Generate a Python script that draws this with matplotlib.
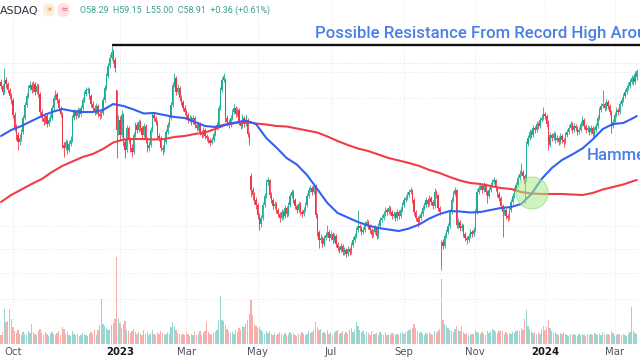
import numpy as np
import pandas as pd
import matplotlib
matplotlib.use("Agg")
import matplotlib.pyplot as plt
from matplotlib.patches import Ellipse
from matplotlib.transforms import blended_transform_factory

# ---------------- data (daily candles, 2022-09-22 .. 2024-03-21) ----------------
open_ = [
57.8, 57.4, 56.8, 58.0, 57.6, 57.0, 56.4, 56.0, 54.5, 53.2,
52.5, 51.8, 52.2, 52.8, 54.2, 55.5, 56.4, 57.2, 57.5, 57.0,
57.6, 56.8, 57.4, 56.6, 54.8, 54.2, 53.8, 54.4, 53.6, 54.0,
54.2, 55.2, 56.2, 56.6, 56.0, 55.2, 54.6, 51.5, 51.2, 51.8,
51.0, 51.6, 52.0, 54.2, 54.8, 54.4, 55.0, 54.6, 55.2, 56.0,
56.6, 57.0, 57.1, 56.4, 55.6, 55.2, 54.8, 55.4, 54.6, 54.4,
54.7, 56.0, 57.2, 58.4, 59.4, 60.2, 60.8, 60.0, 57.0, 53.0,
54.0, 52.5, 54.5, 51.8, 51.0, 53.2, 52.0, 51.2, 50.8, 52.5,
53.5, 53.0, 53.8, 53.2, 52.5, 53.4, 52.0, 51.2, 51.5, 53.0,
54.5, 54.2, 53.8, 52.4, 52.2, 51.2, 51.0, 51.8, 52.8, 53.5,
54.2, 55.5, 57.5, 58.2, 56.8, 57.2, 56.2, 55.8, 55.2, 54.8,
54.5, 54.0, 54.2, 53.8, 54.2, 53.5, 53.2, 53.6, 52.8, 52.5,
53.0, 52.4, 52.2, 52.0, 51.7, 52.0, 52.6, 53.2, 53.5, 55.2,
57.0, 58.0, 58.0, 54.2, 53.8, 53.5, 54.2, 54.8, 55.2, 54.6,
55.0, 53.8, 53.4, 54.2, 53.6, 54.0, 52.6, 48.4, 47.0, 46.5,
46.0, 45.5, 44.5, 43.6, 44.2, 45.5, 46.4, 47.8, 48.0, 46.5,
46.0, 45.4, 45.6, 45.0, 44.6, 44.2, 44.8, 44.4, 45.2, 44.6,
45.5, 46.4, 46.8, 46.0, 45.4, 45.0, 45.6, 44.8, 44.6, 45.0,
45.5, 46.4, 47.0, 47.2, 46.8, 47.4, 44.5, 42.8, 42.0, 42.2,
41.6, 42.2, 42.5, 42.8, 42.2, 42.6, 42.0, 42.4, 41.6, 41.2,
41.0, 41.4, 40.8, 41.0, 40.6, 41.1, 40.8, 41.5, 42.0, 42.4,
43.0, 43.4, 43.2, 42.8, 43.0, 43.6, 43.8, 43.4, 43.0, 42.5,
42.8, 43.2, 42.4, 43.4, 44.0, 44.2, 44.6, 45.0, 44.8, 45.2,
44.8, 44.4, 44.6, 44.2, 44.8, 44.4, 45.0, 45.5, 46.0, 46.2,
46.5, 46.8, 47.0, 46.0, 44.8, 44.2, 43.8, 44.2, 44.6, 45.2,
45.5, 46.0, 45.6, 46.2, 45.8, 45.4, 46.8, 46.5, 45.2, 39.4,
41.8, 41.4, 42.4, 42.8, 43.4, 44.8, 46.0, 46.6, 47.0, 43.5,
43.8, 43.2, 43.4, 42.6, 42.2, 42.0, 42.4, 42.8, 42.6, 43.0,
44.8, 46.8, 47.2, 47.4, 47.0, 47.5, 46.8, 46.4, 47.0, 47.5,
47.8, 48.0, 47.2, 46.6, 46.2, 45.4, 44.8, 45.0, 44.4, 44.2,
45.0, 45.8, 46.4, 47.0, 47.5, 48.2, 48.6, 48.8, 48.4, 48.0,
51.6, 52.2, 52.8, 52.5, 53.2, 53.0, 53.6, 53.4, 54.0, 54.2,
54.6, 54.4, 53.6, 51.5, 52.5, 52.2, 52.6, 52.0, 52.2, 51.8,
52.4, 52.0, 51.8, 52.5, 52.8, 53.2, 53.6, 53.0, 53.4, 53.2,
52.8, 53.0, 53.6, 54.0, 53.4, 53.0, 53.2, 52.8, 53.2, 52.6,
53.0, 53.4, 54.2, 55.0, 55.4, 55.6, 55.2, 55.8, 55.4, 54.8,
53.4, 53.8, 54.5, 55.0, 54.8, 55.6, 56.0, 56.4, 56.8, 57.2,
57.4, 57.8, 58.2, 57.8, 58.29]

high = [
58.1, 57.6, 59.2, 58.3, 57.8, 57.2, 56.7, 56.2, 54.8, 53.6,
52.8, 52.6, 53.1, 54.5, 55.8, 56.7, 57.5, 57.9, 57.8, 57.9,
57.8, 57.7, 57.6, 56.8, 55.1, 54.5, 54.7, 54.6, 54.3, 54.6,
55.5, 56.5, 57.0, 56.8, 56.2, 55.4, 54.8, 51.8, 52.1, 52.0,
51.9, 52.4, 54.5, 55.1, 55.0, 55.3, 55.2, 55.5, 56.3, 56.9,
57.3, 57.3, 57.2, 56.6, 55.9, 55.5, 55.7, 55.6, 54.9, 55.0,
56.3, 57.5, 58.7, 59.7, 60.6, 61.4, 61.1, 60.3, 57.0, 54.5,
54.4, 55.0, 54.7, 52.1, 53.5, 53.4, 52.3, 51.6, 52.8, 53.8,
53.8, 54.1, 54.0, 53.4, 53.7, 53.6, 52.3, 51.9, 53.3, 54.8,
54.8, 54.4, 54.0, 52.7, 52.4, 51.5, 52.1, 53.1, 53.8, 54.5,
55.8, 57.8, 58.7, 58.4, 57.6, 57.4, 56.5, 56.0, 55.5, 55.1,
54.7, 54.5, 54.4, 54.5, 54.4, 53.7, 53.9, 53.8, 53.0, 53.3,
53.2, 52.6, 52.4, 52.2, 52.3, 52.9, 53.5, 53.8, 55.5, 57.3,
58.3, 58.7, 58.2, 54.5, 54.1, 54.5, 55.1, 55.6, 55.4, 55.3,
55.2, 54.0, 54.6, 54.4, 54.6, 54.2, 52.8, 48.7, 47.3, 46.8,
46.3, 45.7, 44.7, 44.5, 45.8, 46.7, 48.1, 48.3, 48.1, 46.8,
46.2, 45.9, 45.8, 45.2, 44.8, 45.1, 45.0, 45.5, 45.4, 45.8,
46.7, 47.1, 47.0, 46.2, 45.6, 45.9, 45.8, 45.0, 45.3, 45.8,
46.7, 47.3, 47.5, 47.4, 47.7, 47.6, 44.7, 43.0, 42.6, 42.4,
42.5, 42.8, 43.5, 43.0, 42.9, 42.8, 42.7, 42.6, 41.8, 41.4,
41.7, 41.6, 41.3, 41.2, 41.4, 41.3, 41.8, 42.3, 42.7, 43.3,
45.0, 43.6, 43.4, 43.3, 43.9, 44.1, 44.0, 43.6, 43.2, 43.1,
43.5, 43.4, 43.7, 44.3, 44.5, 44.9, 45.3, 45.2, 45.5, 45.4,
45.0, 44.9, 44.8, 45.1, 45.0, 45.3, 45.8, 46.3, 46.5, 46.8,
47.1, 47.3, 47.1, 46.2, 45.0, 44.4, 44.5, 44.9, 45.5, 45.8,
46.3, 46.2, 46.5, 46.4, 46.0, 47.2, 47.0, 46.6, 45.4, 42.0,
42.1, 42.7, 43.1, 43.7, 45.1, 46.3, 46.9, 47.3, 47.1, 44.2,
44.0, 43.7, 43.6, 42.8, 42.4, 42.7, 43.1, 43.0, 43.3, 45.1,
47.1, 47.5, 47.7, 47.6, 47.8, 47.7, 47.0, 47.3, 47.8, 48.1,
48.3, 48.1, 47.4, 46.8, 46.4, 45.6, 45.3, 45.2, 44.6, 45.3,
46.1, 46.7, 47.3, 47.8, 48.5, 49.0, 49.7, 49.0, 48.6, 51.9,
52.5, 53.1, 53.0, 53.5, 53.4, 53.9, 53.8, 54.3, 54.6, 55.3,
54.8, 54.6, 54.0, 52.8, 52.7, 52.9, 52.8, 52.5, 52.4, 52.7,
52.6, 52.2, 52.8, 53.1, 53.5, 53.9, 53.8, 53.7, 53.6, 53.4,
53.3, 53.9, 54.4, 54.2, 53.6, 53.5, 53.4, 53.5, 53.4, 53.3,
53.7, 54.5, 55.3, 55.7, 57.0, 55.8, 56.1, 56.0, 55.6, 55.0,
54.1, 54.8, 55.3, 55.2, 55.9, 56.3, 56.7, 57.1, 57.5, 57.8,
58.1, 58.5, 58.4, 58.9, 59.15]

low = [
57.1, 56.5, 56.6, 57.2, 56.7, 56.1, 55.6, 54.2, 52.9, 52.0,
51.0, 51.5, 51.9, 52.6, 54.0, 55.3, 56.2, 57.0, 56.7, 56.8,
56.5, 56.6, 56.3, 54.5, 53.9, 53.5, 53.6, 53.3, 53.4, 53.8,
54.0, 55.0, 56.0, 55.7, 54.9, 54.3, 51.2, 50.3, 51.0, 50.6,
50.8, 51.4, 51.8, 54.0, 54.1, 54.2, 54.3, 54.4, 55.0, 55.8,
56.4, 56.7, 56.1, 55.3, 54.9, 54.5, 54.6, 54.3, 54.1, 54.2,
54.5, 55.8, 57.0, 58.2, 59.2, 60.0, 59.7, 58.8, 50.2, 52.5,
52.0, 52.3, 51.4, 50.2, 50.8, 51.7, 50.8, 50.3, 50.6, 52.3,
52.7, 52.8, 52.9, 52.2, 52.3, 51.7, 50.8, 50.9, 51.3, 52.8,
53.9, 53.5, 52.1, 51.9, 50.9, 50.5, 50.8, 51.6, 52.6, 53.3,
54.0, 55.3, 57.3, 56.5, 56.6, 55.9, 55.5, 54.9, 54.5, 54.2,
53.7, 53.8, 53.5, 53.6, 53.2, 52.9, 53.0, 52.5, 52.2, 52.3,
52.1, 51.9, 51.7, 51.4, 51.6, 51.8, 52.4, 53.0, 53.3, 55.0,
56.8, 57.8, 53.8, 53.4, 53.2, 53.3, 54.0, 54.6, 54.3, 54.4,
53.5, 53.1, 53.2, 53.3, 53.4, 52.3, 51.5, 46.3, 46.0, 45.6,
45.1, 44.1, 43.0, 43.3, 44.0, 45.3, 46.2, 47.5, 46.2, 45.7,
45.1, 45.1, 44.7, 44.3, 43.8, 44.0, 44.1, 44.2, 44.3, 44.4,
45.3, 46.2, 45.7, 45.1, 44.7, 44.8, 44.5, 44.3, 44.4, 44.8,
45.3, 46.2, 46.8, 46.5, 46.6, 44.2, 42.4, 41.2, 41.7, 41.3,
41.4, 42.0, 42.3, 41.9, 42.0, 41.7, 41.8, 41.3, 40.9, 40.7,
40.8, 40.5, 40.5, 40.3, 40.4, 40.5, 40.6, 41.3, 41.8, 42.2,
42.8, 42.9, 42.5, 42.6, 42.8, 43.4, 43.1, 42.7, 42.2, 42.3,
42.6, 42.1, 42.2, 43.2, 43.8, 44.0, 44.4, 44.5, 44.6, 44.5,
44.1, 44.2, 43.9, 44.0, 44.1, 44.2, 44.8, 45.3, 45.8, 46.0,
46.3, 46.6, 45.7, 44.5, 43.9, 43.3, 43.6, 44.0, 44.4, 45.0,
45.3, 45.3, 45.4, 45.5, 45.1, 45.2, 46.2, 44.9, 44.5, 39.0,
41.1, 41.2, 42.2, 42.6, 43.2, 44.6, 45.8, 46.4, 43.2, 43.2,
42.9, 42.9, 42.3, 41.9, 41.6, 41.8, 42.2, 42.3, 42.4, 42.8,
44.6, 46.6, 47.0, 46.7, 46.8, 46.5, 45.7, 46.2, 46.8, 47.3,
47.6, 46.9, 46.3, 45.9, 45.1, 42.3, 44.5, 44.1, 43.9, 44.0,
44.8, 45.6, 46.2, 46.8, 47.3, 48.0, 48.4, 48.1, 45.7, 47.8,
51.4, 52.0, 52.2, 52.3, 52.7, 52.8, 53.1, 53.2, 53.8, 54.0,
54.1, 53.3, 51.0, 51.3, 51.9, 52.0, 51.7, 51.8, 51.5, 51.6,
51.7, 51.3, 51.6, 52.3, 52.6, 53.0, 52.7, 52.8, 52.9, 52.5,
52.6, 52.8, 53.4, 53.1, 52.7, 52.8, 52.5, 52.6, 52.3, 52.4,
52.8, 53.2, 54.0, 54.8, 55.2, 54.9, 55.0, 55.1, 54.5, 52.7,
53.2, 53.6, 54.3, 54.5, 54.6, 55.4, 55.8, 56.2, 56.6, 57.0,
57.2, 57.6, 57.5, 57.6, 58.0]

close = [
57.4, 56.8, 58.0, 57.6, 57.0, 56.4, 56.0, 54.5, 53.2, 52.5,
51.8, 52.2, 52.8, 54.2, 55.5, 56.4, 57.2, 57.5, 57.0, 57.6,
56.8, 57.4, 56.6, 54.8, 54.2, 53.8, 54.4, 53.6, 54.0, 54.2,
55.2, 56.2, 56.6, 56.0, 55.2, 54.6, 51.5, 51.2, 51.8, 51.0,
51.6, 52.0, 54.2, 54.8, 54.4, 55.0, 54.6, 55.2, 56.0, 56.6,
57.0, 57.1, 56.4, 55.6, 55.2, 54.8, 55.4, 54.6, 54.4, 54.7,
56.0, 57.2, 58.4, 59.4, 60.2, 60.8, 60.0, 59.2, 53.0, 54.0,
52.5, 54.5, 51.8, 51.0, 53.2, 52.0, 51.2, 50.8, 52.5, 53.5,
53.0, 53.8, 53.2, 52.5, 53.4, 52.0, 51.2, 51.5, 53.0, 54.5,
54.2, 53.8, 52.4, 52.2, 51.2, 51.0, 51.8, 52.8, 53.5, 54.2,
55.5, 57.5, 58.2, 56.8, 57.2, 56.2, 55.8, 55.2, 54.8, 54.5,
54.0, 54.2, 53.8, 54.2, 53.5, 53.2, 53.6, 52.8, 52.5, 53.0,
52.4, 52.2, 52.0, 51.7, 52.0, 52.6, 53.2, 53.5, 55.2, 57.0,
58.0, 58.4, 54.2, 53.8, 53.5, 54.2, 54.8, 55.2, 54.6, 55.0,
53.8, 53.4, 54.2, 53.6, 54.0, 52.6, 51.8, 47.0, 46.5, 46.0,
45.5, 44.5, 43.6, 44.2, 45.5, 46.4, 47.8, 48.0, 46.5, 46.0,
45.4, 45.6, 45.0, 44.6, 44.2, 44.8, 44.4, 45.2, 44.6, 45.5,
46.4, 46.8, 46.0, 45.4, 45.0, 45.6, 44.8, 44.6, 45.0, 45.5,
46.4, 47.0, 47.2, 46.8, 47.4, 44.5, 42.8, 42.0, 42.2, 41.6,
42.2, 42.5, 42.8, 42.2, 42.6, 42.0, 42.4, 41.6, 41.2, 41.0,
41.4, 40.8, 41.0, 40.6, 41.1, 40.8, 41.5, 42.0, 42.4, 43.0,
43.4, 43.2, 42.8, 43.0, 43.6, 43.8, 43.4, 43.0, 42.5, 42.8,
43.2, 42.4, 43.4, 44.0, 44.2, 44.6, 45.0, 44.8, 45.2, 44.8,
44.4, 44.6, 44.2, 44.8, 44.4, 45.0, 45.5, 46.0, 46.2, 46.5,
46.8, 47.0, 46.0, 44.8, 44.2, 43.8, 44.2, 44.6, 45.2, 45.5,
46.0, 45.6, 46.2, 45.8, 45.4, 46.8, 46.5, 45.2, 44.8, 41.8,
41.4, 42.4, 42.8, 43.4, 44.8, 46.0, 46.6, 47.0, 43.5, 43.8,
43.2, 43.4, 42.6, 42.2, 42.0, 42.4, 42.8, 42.6, 43.0, 44.8,
46.8, 47.2, 47.4, 47.0, 47.5, 46.8, 46.4, 47.0, 47.5, 47.8,
48.0, 47.2, 46.6, 46.2, 45.4, 44.8, 45.0, 44.4, 44.2, 45.0,
45.8, 46.4, 47.0, 47.5, 48.2, 48.6, 48.8, 48.4, 47.6, 51.6,
52.2, 52.8, 52.5, 53.2, 53.0, 53.6, 53.4, 54.0, 54.2, 54.6,
54.4, 53.6, 51.5, 52.5, 52.2, 52.6, 52.0, 52.2, 51.8, 52.4,
52.0, 51.8, 52.5, 52.8, 53.2, 53.6, 53.0, 53.4, 53.2, 52.8,
53.0, 53.6, 54.0, 53.4, 53.0, 53.2, 52.8, 53.2, 52.6, 53.0,
53.4, 54.2, 55.0, 55.4, 55.6, 55.2, 55.8, 55.4, 54.8, 53.4,
53.8, 54.5, 55.0, 54.8, 55.6, 56.0, 56.4, 56.8, 57.2, 57.4,
57.8, 58.2, 57.8, 58.6, 58.91]

volume_m = [
3.2, 4.0, 12.0, 7.5, 8.0, 12.2, 8.5, 6.0, 4.5, 3.8,
5.0, 3.6, 3.2, 4.2, 3.5, 3.0, 4.4, 3.8, 6.9, 4.0,
3.4, 3.0, 4.6, 5.2, 3.8, 3.2, 4.0, 3.5, 2.8, 3.6,
4.2, 3.4, 3.0, 3.8, 4.4, 3.2, 6.0, 5.2, 3.6, 4.0,
3.2, 2.8, 4.6, 3.4, 3.0, 3.6, 2.6, 3.2, 3.8, 3.4,
3.0, 2.8, 3.6, 4.2, 3.4, 4.8, 3.2, 5.0, 6.4, 15.5,
7.0, 6.2, 5.4, 4.8, 5.2, 6.5, 7.2, 8.6, 30.0, 9.0,
7.2, 5.5, 6.8, 8.0, 5.0, 4.4, 3.8, 4.6, 5.2, 4.0,
3.6, 4.2, 3.4, 3.0, 4.8, 3.6, 4.2, 3.2, 3.8, 5.0,
3.6, 3.2, 4.0, 3.4, 4.6, 3.8, 3.0, 3.6, 4.2, 3.4,
5.8, 7.6, 6.2, 4.8, 3.8, 3.4, 3.0, 3.6, 3.2, 4.0,
3.4, 2.8, 3.6, 3.2, 4.2, 3.0, 3.6, 4.4, 3.2, 3.8,
4.6, 7.6, 4.2, 3.6, 3.2, 3.8, 4.2, 5.0, 8.3, 16.6,
8.3, 8.0, 6.5, 5.2, 4.6, 3.8, 4.2, 3.6, 4.8, 4.0,
5.4, 4.8, 6.2, 5.8, 6.8, 8.2, 10.4, 15.2, 10.0, 7.0,
6.2, 5.6, 5.8, 4.8, 4.2, 3.6, 4.4, 3.8, 4.6, 3.4,
3.2, 3.8, 3.0, 3.6, 4.2, 3.4, 3.0, 3.8, 3.2, 3.6,
4.2, 3.4, 3.8, 3.2, 2.8, 3.6, 3.2, 4.0, 3.4, 3.0,
3.6, 4.4, 3.8, 4.2, 5.0, 7.6, 6.0, 4.8, 5.2, 3.8,
4.2, 3.6, 4.8, 3.4, 4.0, 3.2, 3.8, 4.4, 5.0, 3.6,
3.8, 4.6, 3.4, 4.0, 3.6, 4.8, 5.4, 4.2, 5.0, 7.6,
6.2, 5.0, 4.0, 4.6, 3.6, 4.2, 3.8, 3.2, 4.4, 3.6,
3.4, 3.8, 3.2, 4.0, 3.6, 3.2, 4.2, 3.0, 3.6, 3.2,
3.8, 3.4, 3.0, 3.6, 3.2, 3.8, 4.2, 3.6, 4.0, 4.4,
4.8, 5.2, 5.6, 6.9, 5.4, 4.6, 3.8, 4.2, 3.6, 3.2,
3.8, 3.4, 4.0, 3.6, 3.2, 4.6, 3.8, 4.4, 5.2, 22.4,
8.3, 7.0, 6.2, 5.4, 5.0, 4.6, 4.2, 5.2, 6.2, 4.8,
4.4, 6.2, 4.0, 3.6, 3.8, 3.2, 3.0, 3.6, 3.4, 4.8,
4.2, 3.8, 3.4, 4.0, 3.6, 3.2, 4.4, 3.8, 4.6, 5.2,
4.8, 4.2, 3.8, 4.6, 5.0, 4.4, 3.6, 4.0, 3.4, 3.8,
3.6, 4.2, 3.8, 4.4, 5.0, 4.6, 5.4, 5.0, 8.6, 11.7,
6.2, 5.2, 4.4, 3.8, 4.2, 3.6, 4.0, 3.4, 5.2, 6.2,
5.0, 6.0, 8.3, 5.6, 4.4, 3.8, 4.2, 3.6, 3.2, 3.8,
3.4, 4.0, 3.6, 3.2, 2.8, 3.4, 3.0, 3.6, 3.2, 2.8,
3.4, 3.0, 3.6, 3.2, 2.8, 3.4, 3.0, 3.6, 3.2, 3.8,
3.4, 3.0, 3.6, 3.2, 4.0, 3.4, 3.0, 3.6, 3.2, 4.6,
3.8, 3.2, 3.0, 3.6, 3.4, 3.0, 3.6, 3.2, 2.8, 3.4,
4.1, 12.8, 4.6, 3.8, 3.4]

ma_pos = list(range(0, 373, 6)) + [374]
ma50 = [52.4, 53.0, 53.4, 53.9, 54.4, 54.8, 55.1, 54.9, 54.8, 54.8,
        55.0, 55.6, 55.4, 55.05, 54.65, 54.7, 54.5, 54.3, 54.2, 53.8,
        53.4, 53.3, 53.55, 53.75, 53.95, 53.6, 52.2, 51.25, 50.2, 49.55,
        48.5, 47.1, 45.7, 44.7, 44.25, 43.8, 43.45, 43.2, 43.05, 42.9,
        43.15, 43.55, 44.15, 44.6, 44.9, 44.85, 44.75, 44.8, 45.0, 45.2,
        45.3, 45.6, 46.6, 48.1, 49.2, 50.0, 50.55, 51.15, 52.05, 53.1,
        53.6, 53.7, 54.2, 54.4]
ma200 = [45.8, 46.5, 47.05, 47.6, 48.1, 48.8, 49.4, 49.85, 50.3, 50.6,
         51.1, 51.75, 52.05, 52.1, 52.1, 52.05, 52.1, 52.3, 52.4, 52.6,
         52.75, 53.1, 53.5, 53.7, 53.8, 53.65, 53.55, 53.4, 53.35, 53.15,
         52.95, 52.75, 52.35, 51.9, 51.5, 51.15, 50.9, 50.55, 50.2, 49.95,
         49.7, 49.4, 49.0, 48.7, 48.3, 47.95, 47.7, 47.6, 47.4, 47.2,
         47.1, 46.8, 46.65, 46.6, 46.6, 46.6, 46.55, 46.5, 46.7, 47.05,
         47.3, 47.55, 47.9, 48.0]

tick_months = [(2022, 10), (2023, 1), (2023, 3), (2023, 5), (2023, 7),
               (2023, 9), (2023, 11), (2024, 1), (2024, 3)]
tick_labels = ["Oct", "2023", "Mar", "May", "Jul", "Sep", "Nov", "2024", "Mar"]
bold_labels = {"2023", "2024"}

header_text = "O58.29  H59.15  L55.00  C58.91  +0.36 (+0.61%)"
record_high = 61.5
record_idx = 65
hammer_idx = 312.4
hammer_price = 46.7
title_text = "Possible Resistance From Record High Around $61"
hammer_text = "Hammer"

holidays = ["2022-11-24", "2022-12-26", "2023-01-02", "2023-01-16", "2023-02-20",
            "2023-04-07", "2023-05-29", "2023-06-19", "2023-07-04", "2023-09-04",
            "2023-11-23", "2023-12-25", "2024-01-01", "2024-01-15", "2024-02-19"]

# ---------------- figure ----------------
GREEN = "#22ab94"
RED = "#f23645"
W, H = 640, 360
fig = plt.figure(figsize=(6.4, 3.6), dpi=100)
fig.patch.set_facecolor("white")

N = len(close)
idx = np.arange(N)
dates = pd.bdate_range("2022-09-22", periods=N, freq="C", holidays=holidays)
XMIN, XMAX = -1 / 1.7, 639 / 1.7

o = np.array(open_); h = np.array(high); l = np.array(low); c = np.array(close)
up = c >= o

# volume pane (behind the price pane)
ax_v = fig.add_axes([0, 16 / H, 1, 100 / H])
ax_v.set_zorder(0)
ax_v.set_xlim(XMIN, XMAX)
ax_v.set_ylim(0, 34.5)
ax_v.axis("off")
vcol = np.where(up, "#9ad6cf", "#f8aeac")
ax_v.bar(idx, volume_m, width=0.78, color=vcol, linewidth=0)

ax = fig.add_axes([0, 0, 1, 1])
ax.set_zorder(1)
ax.patch.set_alpha(0)
ax.set_xlim(XMIN, XMAX)
ax.set_ylim(30, 66)
ax.axis("off")

# grid
tick_idx = []
for (yy, mm) in tick_months:
    m = np.where((dates.year == yy) & (dates.month == mm))[0]
    tick_idx.append(int(m[0]))
for t in tick_idx:
    ax.axvline(t, color="#e3e5ea", lw=0.7, ls=(0, (1, 2)), zorder=0)
for p in [58.8, 56.2, 43.4, 41.1, 38.7, 36.1]:
    ax.axhline(p, color="#e3e5ea", lw=0.7, ls=(0, (1, 2)), zorder=0)
ax.axhline(59.7, color="#f4cfd3", lw=0.7, ls=(0, (1, 2)), zorder=0)

# candles
col = np.where(up, GREEN, RED)
ax.vlines(idx, l, h, colors=col, linewidth=0.6, zorder=2)
ax.bar(idx, np.maximum(np.abs(c - o), 0.08), bottom=np.minimum(o, c),
       width=0.72, color=col, linewidth=0, zorder=3)

# moving averages
ax.plot(ma_pos, ma200, color="#f23c48", lw=1.5, zorder=4, solid_capstyle="round")
ax.plot(ma_pos, ma50, color="#3460f2", lw=1.5, zorder=4, solid_capstyle="round")

# record-high resistance line
ax.hlines(record_high, record_idx, XMAX + 5, color="#111111", lw=1.7, zorder=5)

# hammer circle (32 px diameter)
ax.add_patch(Ellipse((hammer_idx, hammer_price), width=32 / 1.7, height=3.2,
                     facecolor="#a8ec8a", edgecolor="#86d866", alpha=0.55,
                     lw=0.8, zorder=6))

# annotations
fig.text(315 / W, 1 - 37.8 / H, title_text, color="#4a7fe6", fontsize=12.1,
         family="Roboto", fontweight="medium", va="baseline", ha="left")
fig.text(587 / W, 1 - 160.5 / H, hammer_text, color="#4a7fe6", fontsize=12.1,
         family="Roboto", fontweight="medium", va="baseline", ha="left")

# date labels
trans = blended_transform_factory(ax.transData, ax.transAxes)
for t, lab in zip(tick_idx, tick_labels):
    ax.text(t, 1 - 352 / H, lab, transform=trans, ha="center", va="center",
            fontsize=7.3, color="#131722" if lab in bold_labels else "#4e5260",
            fontweight="bold" if lab in bold_labels else "normal")

# header
fig.text(0 / W, 1 - 11 / H, "ASDAQ", fontsize=7.8, color="#2a2e39", va="center", ha="left")
fig.text(49 / W, 1 - 10 / H, "\u2600", fontsize=6, color="#f39a1f", va="center", ha="center",
         bbox=dict(boxstyle="round,pad=0.25,rounding_size=0.6", fc="#fcefdc", ec="none"))
fig.text(63.5 / W, 1 - 10 / H, "\u2248", fontsize=6.5, color="#f0505a", va="center", ha="center",
         bbox=dict(boxstyle="round,pad=0.25,rounding_size=0.6", fc="#fde2e5", ec="none"))
fig.text(80 / W, 1 - 10.5 / H, header_text, fontsize=6.4, family="Roboto",
         color="#3a9e93", va="center", ha="left")

fig.savefig("out.png", dpi=100, facecolor="white")
